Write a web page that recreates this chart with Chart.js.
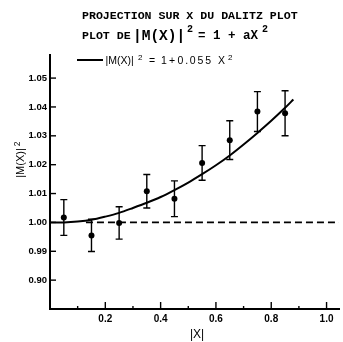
<!DOCTYPE html>
<html>
<head>
<meta charset="utf-8">
<script src="https://cdn.jsdelivr.net/npm/chart.js@4.4.1/dist/chart.umd.min.js"></script>
<style>
html,body{margin:0;padding:0;background:#fff;}
#wrap{width:343px;height:342px;position:relative;}
</style>
</head>
<body>
<div id="wrap"><canvas id="c" width="343" height="342"></canvas></div>
<script>
// ---- data ----
const pointX = [0.05, 0.15, 0.25, 0.35, 0.45, 0.55, 0.65, 0.75, 0.85];
const pointY = [1.0017, 0.9955, 0.9998, 1.0108, 1.0082, 1.0206, 1.0285, 1.0384, 1.0378];
const pointErr = [0.0062, 0.0056, 0.0056, 0.0058, 0.0062, 0.0060, 0.0067, 0.0069, 0.0078];

const fitX = [0, 0.05, 0.1, 0.15, 0.2, 0.25, 0.3, 0.35, 0.4, 0.45, 0.5, 0.55, 0.6, 0.65, 0.7, 0.75, 0.8, 0.85, 0.88];
const fitY = [1.0, 1.0, 1.0003, 1.0009, 1.002, 1.0033, 1.005, 1.0068, 1.0088, 1.0112, 1.0138, 1.0167, 1.0198, 1.0232, 1.027, 1.031, 1.0352, 1.0397, 1.0426];

const refX = [0.13, 1.045];
const refY = [1.0, 1.0];

const yTickValues = [0.98, 0.99, 1.00, 1.01, 1.02, 1.03, 1.04, 1.05];
const yTickLabels = ['0.90', '0.99', '1.00', '1.01', '1.02', '1.03', '1.04', '1.05'];
const xTickValues = [0.2, 0.4, 0.6, 0.8, 1.0];
const xTickLabels = ['0.2', '0.4', '0.6', '0.8', '1.0'];
const xMinorTicks = [0.1, 0.3, 0.5, 0.7, 0.9];

const titleLine1 = 'PROJECTION SUR X DU DALITZ PLOT';
const xAxisTitle = '|X|';
const yAxisTitle = '|M(X)|';

// ---- build ----
const pts = pointX.map((x, i) => ({x, y: pointY[i], e: pointErr[i]}));
const fit = fitX.map((x, i) => ({x, y: fitY[i]}));
const ref = refX.map((x, i) => ({x, y: refY[i]}));

const SANS = '"Liberation Sans", Arial, sans-serif';
const MONO = '"Liberation Mono", "DejaVu Sans Mono", monospace';

const decor = {
  id: 'decor',
  afterDatasetsDraw(chart) {
    const ctx = chart.ctx;
    const xs = chart.scales.x, ys = chart.scales.y;
    ctx.save();
    ctx.strokeStyle = '#000';
    ctx.fillStyle = '#000';
    // error bars
    ctx.lineWidth = 1.4;
    pts.forEach(p => {
      const px = xs.getPixelForValue(p.x);
      const top = ys.getPixelForValue(p.y + p.e);
      const bot = ys.getPixelForValue(p.y - p.e);
      ctx.beginPath();
      ctx.moveTo(px, top); ctx.lineTo(px, bot);
      ctx.moveTo(px - 3.5, top); ctx.lineTo(px + 3.5, top);
      ctx.moveTo(px - 3.5, bot); ctx.lineTo(px + 3.5, bot);
      ctx.stroke();
    });
    // inward tick marks
    ctx.lineWidth = 1.4;
    const L = chart.chartArea.left, B = chart.chartArea.bottom;
    yTickValues.forEach(v => {
      const py = ys.getPixelForValue(v);
      ctx.beginPath(); ctx.moveTo(L, py); ctx.lineTo(L + 6, py); ctx.stroke();
    });
    xTickValues.forEach(v => {
      const px = xs.getPixelForValue(v);
      ctx.beginPath(); ctx.moveTo(px, B); ctx.lineTo(px, B - 7); ctx.stroke();
    });
    xMinorTicks.forEach(v => {
      const px = xs.getPixelForValue(v);
      ctx.beginPath(); ctx.moveTo(px, B); ctx.lineTo(px, B - 3); ctx.stroke();
    });
    ctx.restore();
  },
  afterDraw(chart) {
    const ctx = chart.ctx;
    ctx.save();
    ctx.fillStyle = '#000';
    ctx.strokeStyle = '#000';
    ctx.textBaseline = 'alphabetic';
    ctx.textAlign = 'left';
    // title line 1
    ctx.font = 'bold 11.6px ' + MONO;
    ctx.fillText(titleLine1, 82, 18.5);
    // title line 2
    ctx.fillText('PLOT DE', 82, 38.5);
    ctx.font = 'bold 14.5px ' + MONO;
    ctx.fillText('|M(X)|', 133, 39.5);
    ctx.font = 'bold 10px ' + MONO;
    ctx.fillText('2', 187, 32);
    ctx.font = 'bold 12.5px ' + MONO;
    ctx.fillText('= 1 + aX', 198, 39);
    ctx.font = 'bold 10px ' + MONO;
    ctx.fillText('2', 262, 32);
    // legend
    ctx.lineWidth = 2;
    ctx.beginPath(); ctx.moveTo(77, 60); ctx.lineTo(103, 60); ctx.stroke();
    ctx.font = '10.5px ' + SANS;
    ctx.fillText('|M(X)|', 105.5, 64);
    ctx.font = '8px ' + SANS;
    ctx.fillText('2', 138, 60);
    ctx.font = '10.5px ' + SANS;
    ctx.fillText('=', 149, 64);
    ctx.fillText('1', 161, 64);
    ctx.fillText('+', 169, 64);
    ctx.letterSpacing = '1.8px';
    ctx.fillText('0.055', 177.5, 64);
    ctx.letterSpacing = '0px';
    ctx.fillText('X', 218, 64);
    ctx.font = '8px ' + SANS;
    ctx.fillText('2', 228, 60);
    // x axis title
    ctx.font = '12px ' + SANS;
    ctx.textAlign = 'center';
    ctx.fillText(xAxisTitle, 197, 338);
    // y axis title (rotated)
    ctx.translate(24, 163);
    ctx.rotate(-Math.PI / 2);
    ctx.font = '11px ' + SANS;
    ctx.textAlign = 'center';
    const w = ctx.measureText(yAxisTitle).width;
    ctx.fillText(yAxisTitle, 0, 0);
    ctx.font = '8.5px ' + SANS;
    ctx.textAlign = 'left';
    ctx.fillText('2', w / 2 + 2, -4);
    ctx.restore();
  }
};

new Chart(document.getElementById('c'), {
  type: 'scatter',
  data: {
    datasets: [
      {
        label: 'fit',
        data: fit,
        showLine: true,
        borderColor: '#000',
        borderWidth: 2,
        pointRadius: 0,
        tension: 0.3,
        fill: false,
        order: 2
      },
      {
        label: 'ref',
        data: ref,
        showLine: true,
        borderColor: '#000',
        borderWidth: 1.6,
        borderDash: [7, 4],
        pointRadius: 0,
        fill: false,
        order: 3
      },
      {
        label: 'data',
        data: pts,
        showLine: false,
        pointRadius: 3,
        pointBackgroundColor: '#000',
        pointBorderColor: '#000',
        pointBorderWidth: 0,
        order: 1
      }
    ]
  },
  options: {
    responsive: false,
    animation: false,
    devicePixelRatio: 1,
    layout: {padding: {left: 0, right: 3, top: 55, bottom: 0}},
    plugins: {legend: {display: false}, tooltip: {enabled: false}, title: {display: false}},
    scales: {
      x: {
        type: 'linear',
        min: 0, max: 1.045,
        afterFit(s) { s.height = 33; },
        afterBuildTicks(s) { s.ticks = xTickValues.map(v => ({value: v})); },
        ticks: {
          color: '#000',
          font: {family: SANS, size: 10, weight: 'bold'},
          padding: 4,
          maxRotation: 0,
          autoSkip: false,
          callback(v) { const i = xTickValues.findIndex(t => Math.abs(t - v) < 1e-6); return i >= 0 ? xTickLabels[i] : ''; }
        },
        grid: {display: false, drawTicks: false},
        border: {display: true, color: '#000', width: 2}
      },
      y: {
        type: 'linear',
        min: 0.97, max: 1.058,
        afterFit(s) { s.width = 50; },
        afterBuildTicks(s) { s.ticks = yTickValues.map(v => ({value: v})); },
        ticks: {
          color: '#000',
          font: {family: SANS, size: 9.5, weight: 'bold'},
          padding: 3,
          autoSkip: false,
          callback(v) { const i = yTickValues.findIndex(t => Math.abs(t - v) < 1e-6); return i >= 0 ? yTickLabels[i] : ''; }
        },
        grid: {display: false, drawTicks: false},
        border: {display: true, color: '#000', width: 2}
      }
    }
  },
  plugins: [decor]
});
</script>
</body>
</html>
